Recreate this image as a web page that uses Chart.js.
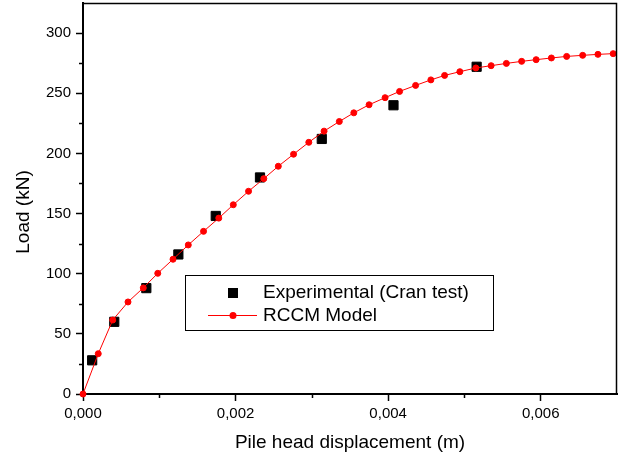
<!DOCTYPE html>
<html>
<head>
<meta charset="utf-8">
<script src="https://cdn.jsdelivr.net/npm/chart.js"></script>
<style>
  html, body { margin: 0; padding: 0; background: #fff; }
  #wrap { width: 619px; height: 456px; }
</style>
</head>
<body>
<div id="wrap"><canvas id="chart" width="619" height="456"></canvas></div>
<script>
// measured data (load in kN vs pile head displacement in m)
const expX = [0.00012, 0.00041, 0.00083, 0.00125, 0.00174, 0.00232, 0.00313, 0.00407, 0.00516];
const expY = [28, 60, 88, 116, 148, 180, 212, 240, 272];

const modelX = [0, 0.0002, 0.00039, 0.00059, 0.00079, 0.00098, 0.00118, 0.00138, 0.00158, 0.00178,
    0.00197, 0.00217, 0.00237, 0.00256, 0.00276, 0.00296, 0.00316, 0.00336, 0.00355, 0.00375,
    0.00396, 0.00415, 0.00436, 0.00456, 0.00474, 0.00494, 0.00515, 0.00535, 0.00555, 0.00575,
    0.00594, 0.00614, 0.00634, 0.00655, 0.00675, 0.00695];
const modelY = [0, 33.5, 61.5, 76.5, 88.2, 100.3, 112, 123.9, 135.2, 146.2,
    157.3, 168.5, 179, 189.3, 199.3, 209.2, 218.5, 226.5, 233.7, 240.4,
    246.3, 251.5, 256.5, 261.1, 264.8, 267.9, 271, 272.9, 274.8, 276.5,
    277.9, 279.3, 280.6, 281.5, 282.3, 282.9];

const xTicks = [0, 0.002, 0.004, 0.006];
const xMinor = [0.001, 0.003, 0.005];
const yTicks = [0, 50, 100, 150, 200, 250, 300];
const yMinor = [25, 75, 125, 175, 225, 275];

const FONT = "'Liberation Sans', Arial, sans-serif";

// box round the plot, minor ticks, y title and the legend
const framePlugin = {
    id: 'frame',
    afterDraw(chart) {
        const ctx = chart.ctx;
        const a = chart.chartArea;
        const xs = chart.scales.x, ys = chart.scales.y;
        ctx.save();
        ctx.strokeStyle = '#000';
        ctx.lineWidth = 1.5;
        ctx.beginPath();
        ctx.moveTo(a.left, a.top + 0.5);
        ctx.lineTo(a.right - 0.5, a.top + 0.5);
        ctx.lineTo(a.right - 0.5, a.bottom);
        ctx.stroke();

        // minor ticks
        ctx.lineWidth = 1.5;
        ctx.beginPath();
        xMinor.forEach(v => {
            const px = Math.round(xs.getPixelForValue(v)) + 0.5;
            ctx.moveTo(px, a.bottom);
            ctx.lineTo(px, a.bottom + 4);
        });
        yMinor.forEach(v => {
            const py = Math.round(ys.getPixelForValue(v)) + 0.5;
            ctx.moveTo(a.left, py);
            ctx.lineTo(a.left - 4, py);
        });
        ctx.stroke();

        // y axis title
        ctx.fillStyle = '#000';
        ctx.font = '19px ' + FONT;
        ctx.textAlign = 'center';
        ctx.textBaseline = 'middle';
        ctx.translate(24, 212);
        ctx.rotate(-Math.PI / 2);
        ctx.fillText('Load (kN)', 0, 0);
        ctx.restore();

        // legend
        ctx.save();
        ctx.fillStyle = '#fff';
        ctx.fillRect(185, 275, 309, 55);
        ctx.strokeStyle = '#000';
        ctx.lineWidth = 1;
        ctx.strokeRect(185.5, 275.5, 308, 55);

        const ds = chart.data.datasets;
        ctx.fillStyle = '#000';
        ctx.fillRect(228, 288, 10, 10);
        ctx.strokeStyle = 'red';
        ctx.lineWidth = 1;
        ctx.beginPath();
        ctx.moveTo(208, 315.5);
        ctx.lineTo(257, 315.5);
        ctx.stroke();
        ctx.fillStyle = 'red';
        ctx.beginPath();
        ctx.arc(233, 315.5, 3.5, 0, Math.PI * 2);
        ctx.fill();

        ctx.fillStyle = '#000';
        ctx.font = '19px ' + FONT;
        ctx.textAlign = 'left';
        ctx.textBaseline = 'middle';
        ctx.fillText(ds[1].label, 263, 293);
        ctx.fillText(ds[0].label, 263, 316);
        ctx.restore();
    }
};

new Chart(document.getElementById('chart'), {
    type: 'scatter',
    data: {
        datasets: [{
            label: 'RCCM Model',
            data: modelX.map((x, i) => ({x: x, y: modelY[i]})),
            showLine: true,
            borderColor: 'red',
            borderWidth: 1,
            backgroundColor: 'red',
            pointRadius: 3,
            pointBorderWidth: 1,
            pointBorderColor: 'red',
            pointBackgroundColor: 'red',
            clip: 10,
            order: 1
        }, {
            label: 'Experimental (Cran test)',
            data: expX.map((x, i) => ({x: x, y: expY[i]})),
            showLine: false,
            pointStyle: 'rect',
            pointRadius: 6.5,
            pointBorderWidth: 1,
            pointBackgroundColor: '#000',
            pointBorderColor: '#000',
            clip: 10,
            order: 2
        }]
    },
    options: {
        responsive: false,
        animation: false,
        layout: { autoPadding: false, padding: { top: 3, right: 2, left: 0, bottom: 0 } },
        plugins: {
            legend: { display: false },
            tooltip: { enabled: false }
        },
        scales: {
            x: {
                type: 'linear',
                min: 0,
                max: 0.007,
                afterBuildTicks: s => { s.ticks = xTicks.map(v => ({value: v})); },
                afterFit: s => { s.height = 62; s.paddingLeft = 0; s.paddingRight = 0; },
                grid: { drawOnChartArea: false, drawTicks: true, tickLength: 7, tickColor: '#000', tickWidth: 1.5 },
                border: { color: '#000', width: 2 },
                ticks: {
                    callback: v => v.toFixed(3).replace('.', ','),
                    font: { family: FONT, size: 15 },
                    color: '#000',
                    padding: 4,
                    maxRotation: 0,
                    autoSkip: false
                },
                title: {
                    display: true,
                    text: 'Pile head displacement (m)',
                    font: { family: FONT, size: 19 },
                    color: '#000',
                    padding: { top: 0, bottom: 2 }
                }
            },
            y: {
                type: 'linear',
                min: 0,
                max: 325,
                afterBuildTicks: s => { s.ticks = yTicks.map(v => ({value: v})); },
                afterFit: s => { s.width = 83; s.paddingTop = 0; s.paddingBottom = 0; },
                grid: { drawOnChartArea: false, drawTicks: true, tickLength: 7, tickColor: '#000', tickWidth: 1.5 },
                border: { color: '#000', width: 2 },
                ticks: {
                    font: { family: FONT, size: 15 },
                    color: '#000',
                    padding: 5
                }
            }
        }
    },
    plugins: [framePlugin]
});
</script>
</body>
</html>
